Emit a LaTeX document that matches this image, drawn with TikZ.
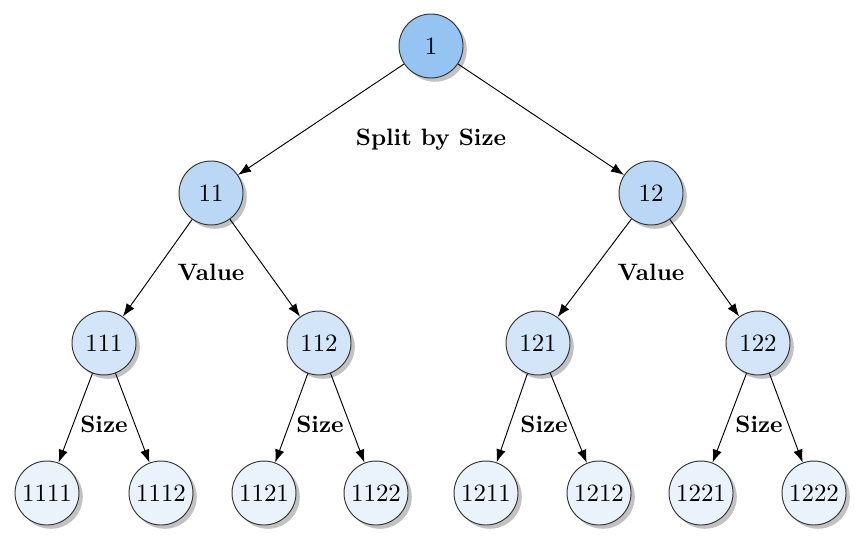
\documentclass[tikz,border=0pt]{standalone}
\usetikzlibrary{shadows,arrows.meta}
\definecolor{lvA}{RGB}{150,196,242}
\definecolor{lvB}{RGB}{186,216,246}
\definecolor{lvC}{RGB}{210,229,249}
\definecolor{lvD}{RGB}{234,243,252}
\begin{document}
\begin{tikzpicture}[x=0.422pt,y=-0.422pt,
  tnode/.style={circle,draw=black!80,line width=0.4pt,minimum size=27pt,inner sep=0pt,font=\fontsize{10.5}{12}\selectfont,
    drop shadow={shadow xshift=1.6pt,shadow yshift=-1.6pt,opacity=0.4,fill=black!60}},
  rootn/.style={tnode,fill=lvA},
  lone/.style={tnode,fill=lvB},
  ltwo/.style={tnode,fill=lvC},
  lthree/.style={tnode,fill=lvD},
  edge/.style={-{Latex[length=5.5pt,width=4pt]},line width=0.4pt},
  lab/.style={font=\bfseries}]
\useasboundingbox (0,0) rectangle (867,549);
\node[rootn] (n1) at (431,46) {1};
\node[lone] (n11) at (211,193) {11};
\node[lone] (n12) at (651,193) {12};
\node[ltwo] (n111) at (104,343) {111};
\node[ltwo] (n112) at (319,343) {112};
\node[ltwo] (n121) at (538,343) {121};
\node[ltwo] (n122) at (758,343) {122};
\node[lthree] (n1111) at (47,493) {1111};
\node[lthree] (n1112) at (161,493) {1112};
\node[lthree] (n1121) at (264,493) {1121};
\node[lthree] (n1122) at (376,493) {1122};
\node[lthree] (n1211) at (486,493) {1211};
\node[lthree] (n1212) at (599,493) {1212};
\node[lthree] (n1221) at (701,493) {1221};
\node[lthree] (n1222) at (814,493) {1222};
\draw[edge] (n1) -- (n11);
\draw[edge] (n1) -- (n12);
\draw[edge] (n11) -- (n111);
\draw[edge] (n11) -- (n112);
\draw[edge] (n12) -- (n121);
\draw[edge] (n12) -- (n122);
\draw[edge] (n111) -- (n1111);
\draw[edge] (n111) -- (n1112);
\draw[edge] (n112) -- (n1121);
\draw[edge] (n112) -- (n1122);
\draw[edge] (n121) -- (n1211);
\draw[edge] (n121) -- (n1212);
\draw[edge] (n122) -- (n1221);
\draw[edge] (n122) -- (n1222);
\node[lab] (lsplit) at (431,140) {Split by Size};
\node[lab] (lv1) at (211,272) {Value};
\node[lab] (lv2) at (651,272) {Value};
\node[lab] (ls1) at (104,424) {Size};
\node[lab] (ls2) at (320,424) {Size};
\node[lab] (ls3) at (544,424) {Size};
\node[lab] (ls4) at (759,424) {Size};
\end{tikzpicture}
\end{document}
